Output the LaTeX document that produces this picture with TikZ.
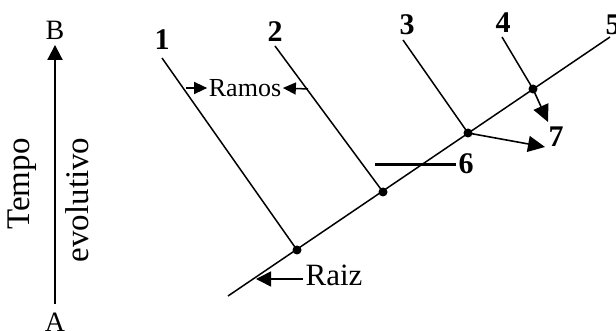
\documentclass[tikz,border=0pt]{standalone}
\usepackage{fontspec}
\setmainfont{Liberation Serif}
\usetikzlibrary{arrows.meta}

\begin{document}
\begin{tikzpicture}[x=1pt,y=-1pt,line width=1.5pt,
    num/.style={inner sep=0pt,font=\fontsize{30}{30}\selectfont\bfseries},
    big/.style={-{Triangle[length=17pt,width=16pt]}},
    small/.style={-{Triangle[length=13pt,width=12pt]}}]
\useasboundingbox (0,0) rectangle (616,331);
% eixo do tempo
\node[inner sep=0pt,font=\fontsize{28}{28}\selectfont] (A) at (55,322) {A};
\node[inner sep=0pt,font=\fontsize{28}{28}\selectfont] (B) at (55,30) {B};
\draw[line width=2pt,-{Triangle[length=15pt,width=15pt]},shorten <=8pt,shorten >=5pt] (A.north) -- (B.south);
\node[rotate=90,inner sep=0pt,font=\fontsize{33}{33}\selectfont] (tempo) at (22,184) {Tempo};
\node[rotate=90,inner sep=0pt,font=\fontsize{33}{33}\selectfont] (evol) at (77,200) {evolutivo};
% tronco
\coordinate (r0) at (228,296);
\coordinate (r5) at (610,37);
\coordinate (d1) at (297,250);
\coordinate (d2) at (383,192);
\coordinate (d3) at (468,133);
\coordinate (d4) at (533,89);
\draw (r0) -- (r5);
% ramos
\coordinate (b1) at (162,58);
\coordinate (b2) at (275,46);
\coordinate (b3) at (403,40);
\coordinate (b4) at (502,37);
\draw (b1) -- (d1);
\draw (b2) -- (d2);
\draw (b3) -- (d3);
\draw (b4) -- (d4);
\foreach \d in {d1,d2,d3,d4}
    \fill (\d) circle (4.5pt);
% numeros
\node[num] (n1) at (162,40) {1};
\node[num] (n2) at (275,32) {2};
\node[num] (n3) at (407,25) {3};
\node[num] (n4) at (503,23) {4};
\node[num] (n5) at (613,25) {5};
\node[num] (n6) at (466,164) {6};
\node[num] (n7) at (556,137) {7};
% linha 6
\coordinate (s6) at (375,165);
\draw[line width=3pt] (s6) -- ([xshift=-2pt]n6.west |- s6);
% setas para 7
\coordinate (t4) at (548,122);
\coordinate (t3) at (545,147);
\draw[line width=1.6pt,big] (d4) -- (t4);
\draw[line width=1.6pt,big] (d3) -- (t3);
% Ramos
\node[inner sep=1pt,font=\fontsize{26}{26}\selectfont] (ramos) at (245,88) {Ramos};
\coordinate (ra) at (186,88);
\coordinate (rb) at (308,89);
\draw[small] (ra) -- (ramos.west);
\draw[small] (rb) -- (ramos.east);
% Raiz
\node[inner sep=2pt,font=\fontsize{31}{31}\selectfont] (raiz) at (334,275) {Raiz};
\coordinate (rz) at (256,279);
\draw[-{Triangle[length=15pt,width=15pt]}] (raiz.west |- rz) -- (rz);
\end{tikzpicture}
\end{document}
